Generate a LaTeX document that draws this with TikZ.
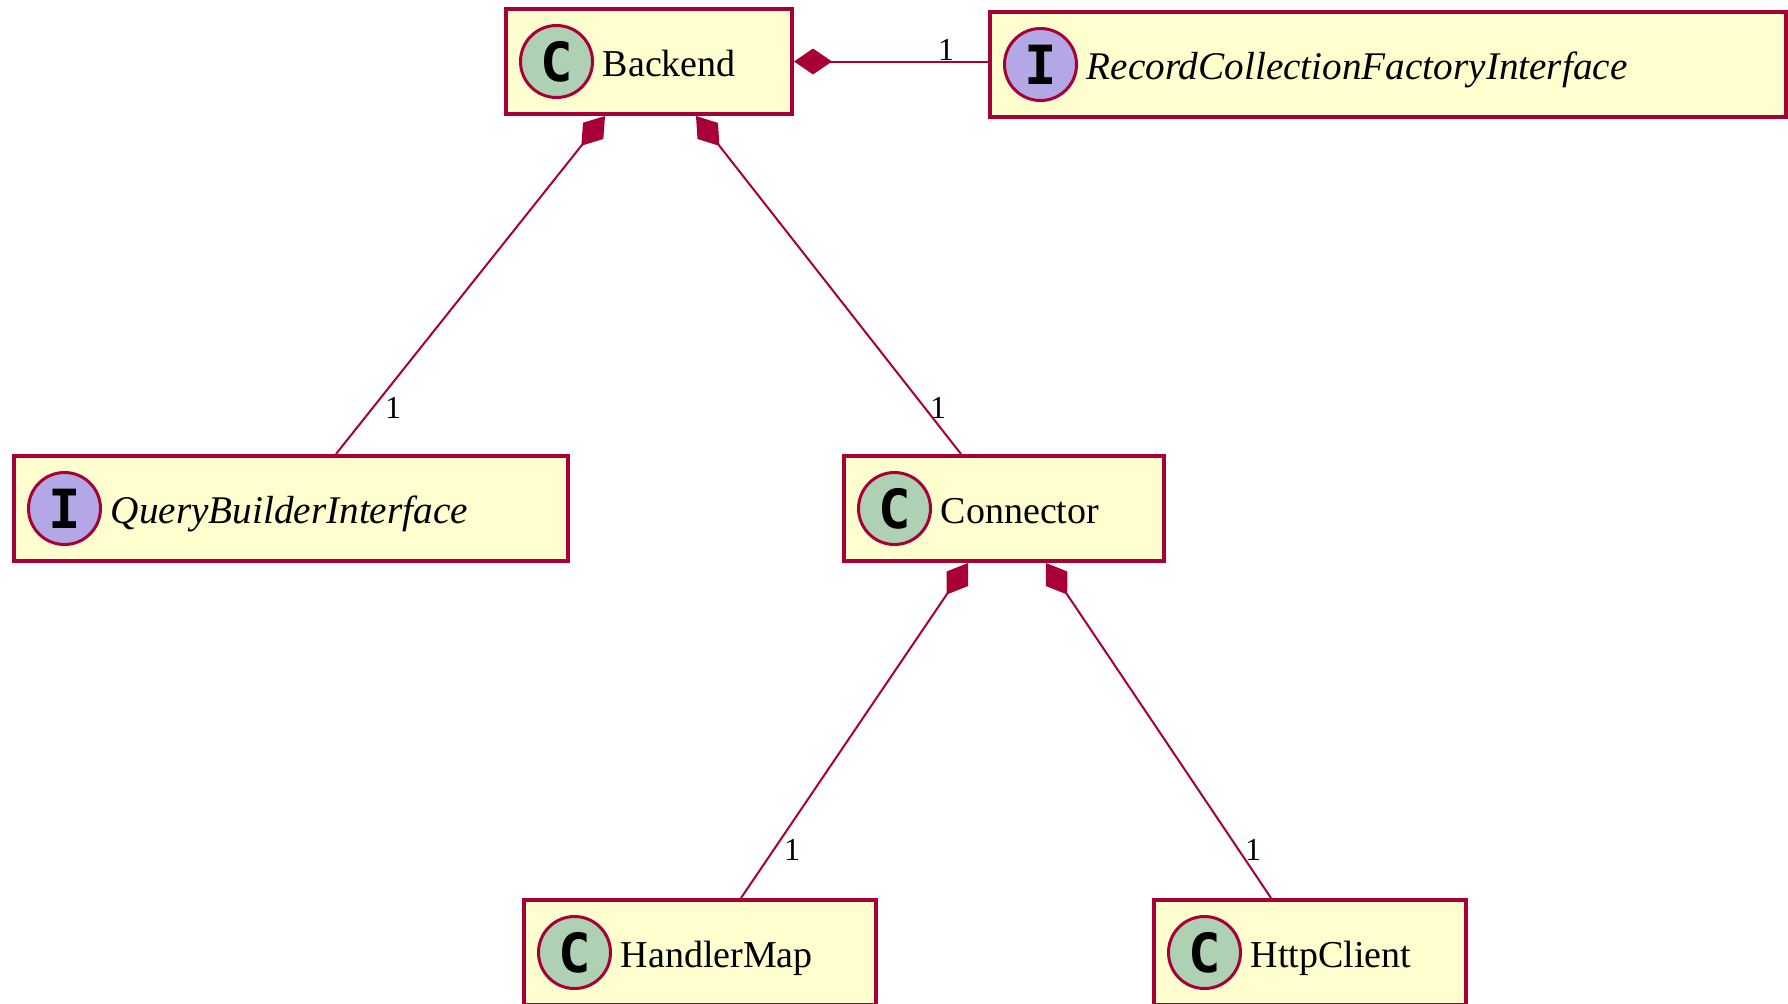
\documentclass[tikz,border=0pt]{standalone}
\usepackage{fontspec}
\setmainfont{Liberation Serif}
\newfontfamily\spotfont{DejaVu Sans Mono}
\usetikzlibrary{positioning,arrows.meta}
\definecolor{umlline}{HTML}{A80036}
\definecolor{umlfill}{HTML}{FEFECE}
\definecolor{classspot}{HTML}{ADD1B2}
\definecolor{ifacespot}{HTML}{B4A7E5}
\begin{document}
\begin{tikzpicture}[x=0.5pt, y=-0.5pt,
  box/.style = {draw=umlline, fill=umlfill, line width=2pt, anchor=north west, minimum height=52.5pt, inner sep=0pt},
  spot/.style = {draw=umlline, circle, line width=1.5pt, minimum size=36pt, inner sep=0pt, font=\spotfont\bfseries\fontsize{27}{27}\selectfont},
  cls/.style = {spot, fill=classspot},
  iface/.style = {spot, fill=ifacespot},
  boxtext/.style = {inner sep=0pt, text height=15pt, text depth=0pt, font=\fontsize{19}{19}\selectfont},
  ifacetext/.style = {boxtext, font=\itshape\fontsize{19.6}{19.6}\selectfont},
  one/.style = {inner sep=0pt, font=\fontsize{16}{16}\selectfont},
  comp/.style = {draw=umlline, line width=1pt, {Diamond[length=19pt, width=13pt]}-}]
\useasboundingbox (0,0) rectangle (1788,1003);
\node[box, minimum width=143pt] (backend) at (504,7) {};
\node[box, minimum width=398pt] (factory) at (988,10) {};
\node[box, minimum width=277pt] (query) at (12,454) {};
\node[box, minimum width=160pt] (connector) at (842,454) {};
\node[box, minimum width=176pt] (handler) at (522,898) {};
\node[box, minimum width=156pt] (http) at (1152,898) {};
\node[cls, right=7.5pt of backend.west] (backendc) {C};
\node[iface, right=7.5pt of factory.west] (factoryc) {I};
\node[iface, right=7.5pt of query.west] (queryc) {I};
\node[cls, right=7.5pt of connector.west] (connectorc) {C};
\node[cls, right=7.5pt of handler.west] (handlerc) {C};
\node[cls, right=7.5pt of http.west] (httpc) {C};
\node[boxtext, right=4.2pt of backendc] (backendt) {Backend};
\node[ifacetext, right=4.2pt of factoryc] (factoryt) {RecordCollectionFactoryInterface};
\node[ifacetext, right=4.2pt of queryc] (queryt) {QueryBuilderInterface};
\node[boxtext, right=4.2pt of connectorc] (connectort) {Connector};
\node[boxtext, right=4.2pt of handlerc] (handlert) {HandlerMap};
\node[boxtext, right=4.2pt of httpc] (httpt) {HttpClient};
\draw[comp] (backend.east) -- (factory.west |- backend.east);
\draw[comp] ([xshift=-22pt]backend.south) -- ([xshift=22.5pt]query.north);
\draw[comp] ([xshift=23.5pt]backend.south) -- ([xshift=-21.5pt]connector.north);
\draw[comp] ([xshift=-18pt]connector.south) -- ([xshift=20.5pt]handler.north);
\draw[comp] ([xshift=21pt]connector.south) -- ([xshift=-19.5pt]http.north);
\node[one] (onea) at (946,50) {1};
\node[one] (oneb) at (393,408) {1};
\node[one] (onec) at (938,408) {1};
\node[one] (oned) at (792,850) {1};
\node[one] (onee) at (1253,850) {1};
\end{tikzpicture}
\end{document}
